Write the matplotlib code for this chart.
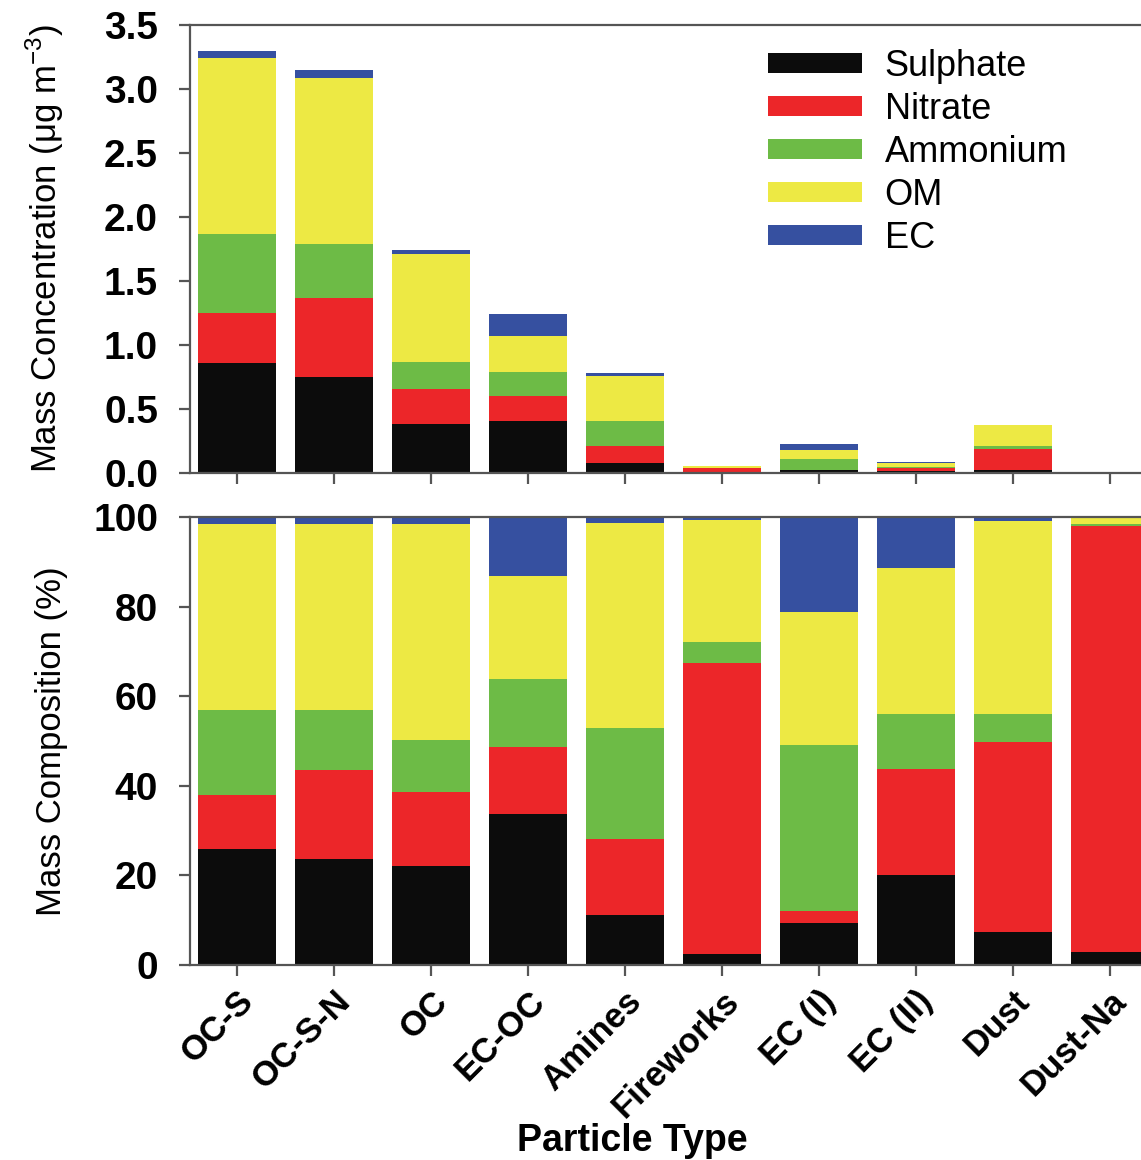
import numpy as np
import matplotlib
matplotlib.use('Agg')
import matplotlib.pyplot as plt

# Particle types (x categories)
particle_types = ['OC-S', 'OC-S-N', 'OC', 'EC-OC', 'Amines', 'Fireworks',
                  'EC (I)', 'EC (II)', 'Dust', 'Dust-Na']
species = ['Sulphate', 'Nitrate', 'Ammonium', 'OM', 'EC']

# Mass concentration (ug m-3)
conc_sulphate = [0.86, 0.75, 0.38, 0.41, 0.08, 0.0014, 0.021, 0.018, 0.027, 0.0002]
conc_nitrate = [0.39, 0.62, 0.28, 0.19, 0.13, 0.036, 0.006, 0.021, 0.160, 0.006]
conc_ammonium = [0.62, 0.42, 0.21, 0.19, 0.20, 0.0025, 0.083, 0.011, 0.024, 0.00002]
conc_om = [1.37, 1.30, 0.84, 0.28, 0.35, 0.015, 0.067, 0.029, 0.161, 0.0001]
conc_ec = [0.06, 0.06, 0.03, 0.17, 0.02, 0.0004, 0.047, 0.010, 0.004, 0.0]

# Mass composition (%)
pct_sulphate = [26.0, 23.7, 22.2, 33.6, 11.2, 2.5, 9.4, 20.2, 7.3, 2.8]
pct_nitrate = [12.0, 19.8, 16.5, 15.1, 16.9, 65.0, 2.7, 23.6, 42.5, 95.2]
pct_ammonium = [18.9, 13.4, 11.5, 15.2, 24.7, 4.5, 36.9, 12.3, 6.3, 0.4]
pct_om = [41.5, 41.5, 48.2, 23.0, 45.9, 27.3, 29.8, 32.6, 42.9, 1.6]
pct_ec = [1.6, 1.6, 1.6, 13.1, 1.3, 0.7, 21.2, 11.3, 1.0, 0.0]

colors = ['#0c0c0c', '#ec2629', '#6dbb46', '#ede944', '#3650a0']

plt.rcParams['font.family'] = ['Liberation Sans', 'DejaVu Sans']

fig = plt.figure(figsize=(11.41, 11.60), dpi=100)
ax_top = fig.add_axes([0.1665, 0.5922, 0.851, 0.3862])
ax_bot = fig.add_axes([0.1665, 0.1681, 0.851, 0.3862])

x = np.arange(len(particle_types))
width = 0.8


def stacked(ax, layers):
    bottom = np.zeros(len(x))
    for vals, col, name in zip(layers, colors, species):
        vals = np.array(vals)
        ax.bar(x, vals, width, bottom=bottom, color=col, linewidth=0, label=name)
        bottom += vals


stacked(ax_top, [conc_sulphate, conc_nitrate, conc_ammonium, conc_om, conc_ec])
stacked(ax_bot, [pct_sulphate, pct_nitrate, pct_ammonium, pct_om, pct_ec])

for ax in (ax_top, ax_bot):
    ax.set_xlim(-0.485, 9.526)
    ax.set_xticks(x)
    for sp in ax.spines.values():
        sp.set_color('#555555')
        sp.set_linewidth(1.6)
    ax.spines['right'].set_visible(False)
    ax.tick_params(direction='out', length=8, width=1.6, color='#555555')
    ax.tick_params(axis='y', labelsize=28, pad=15)

ax_top.set_ylim(0, 3.5)
ax_top.set_yticks(np.arange(0, 3.51, 0.5))
ax_top.set_yticklabels(['%.1f' % v for v in np.arange(0, 3.51, 0.5)],
                       fontweight='bold')
ax_top.set_xticklabels([])
ax_top.set_ylabel(r'Mass Concentration ($\mathregular{\mu}$g m$^{\mathregular{-3}}$)',
                  fontsize=25)
ax_top.yaxis.set_label_coords(-0.128, 0.5)

ax_bot.set_ylim(0, 100)
ax_bot.set_yticks(np.arange(0, 101, 20))
ax_bot.set_yticklabels([str(v) for v in range(0, 101, 20)], fontweight='bold')
ax_bot.set_xticklabels(particle_types, rotation=45, ha='right',
                       rotation_mode='anchor', fontweight='bold', fontsize=25)
ax_bot.tick_params(axis='x', pad=6)
ax_bot.set_ylabel('Mass Composition (%)', fontsize=25)
ax_bot.yaxis.set_label_coords(-0.126, 0.5)
ax_bot.set_xlabel('Particle Type', fontsize=27, fontweight='bold')
ax_bot.xaxis.set_label_coords(0.456, -0.352)

leg = ax_top.legend(loc='upper left', bbox_to_anchor=(0.595, 0.947),
                    frameon=False, fontsize=26, handlelength=2.6,
                    handleheight=0.47, labelspacing=0.22, handletextpad=0.64,
                    borderaxespad=0, borderpad=0)

fig.savefig('out.png', dpi=100)
